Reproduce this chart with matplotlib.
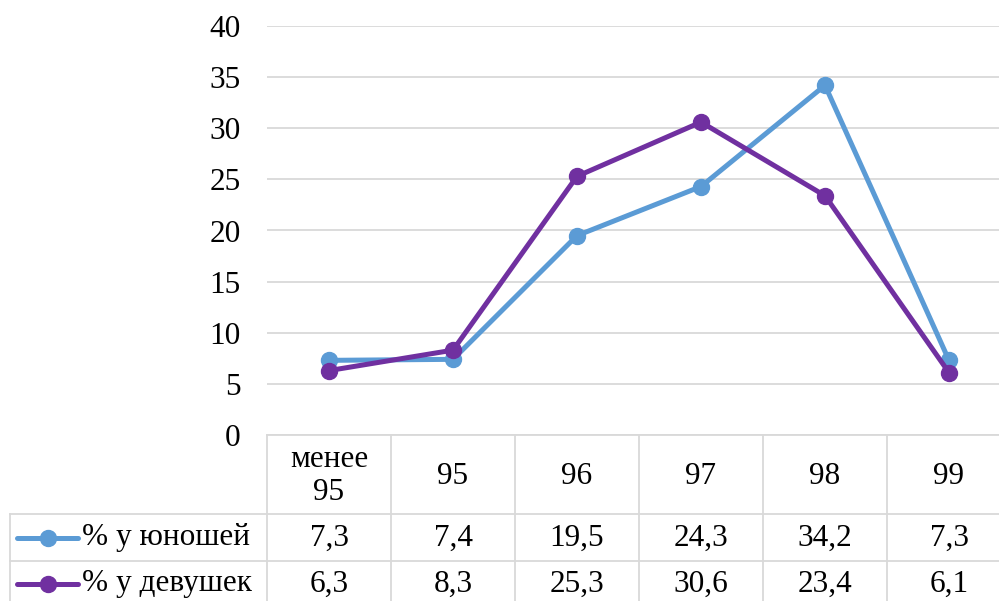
import matplotlib
matplotlib.use("Agg")
import matplotlib.pyplot as plt
from matplotlib.transforms import blended_transform_factory
from matplotlib.lines import Line2D

categories = ["менее\n95", "95", "96", "97", "98", "99"]
series_names = ["% у юношей", "% у девушек"]
boys = [7.3, 7.4, 19.5, 24.3, 34.2, 7.3]
girls = [6.3, 8.3, 25.3, 30.6, 23.4, 6.1]
colors = ["#5B9BD5", "#7030A0"]
yticks = [0, 5, 10, 15, 20, 25, 30, 35, 40]

plt.rcParams['font.family'] = ['Liberation Serif', 'DejaVu Serif']
FS = 22.5
LW = 3.6
MS = 11.5
W, H = 999, 601
fig = plt.figure(figsize=(W / 100, H / 100), dpi=100)

left_px, top_px, bottom_px = 267, 26, 435
ax = fig.add_axes([left_px / W, (H - bottom_px) / H, (W - left_px) / W, (bottom_px - top_px) / H])
cat_w = 124.0
x = list(range(len(categories)))
ax.set_xlim(-0.5, -0.5 + (W - left_px) / cat_w)
ax.set_ylim(0, 40)
ax.set_yticks(yticks)
ax.set_yticklabels([str(t) for t in yticks], fontsize=FS)
ax.tick_params(axis='y', length=0, pad=19)
ax.set_xticks([])
for s in ax.spines.values():
    s.set_visible(False)
ax.grid(axis='y', color='#D9D9D9', linewidth=1.3)
ax.set_axisbelow(True)

for vals, c in zip([boys, girls], colors):
    ax.plot(x, vals, color=c, linewidth=LW, marker='o', markersize=MS, solid_capstyle='round', zorder=3)

# Data table
tr = blended_transform_factory(ax.transData, fig.transFigure)
gc = '#D9D9D9'
lw = 1.3
def fy(py):
    return (H - py) / H

xmax = -0.5 + (W - left_px) / cat_w + 1
ax.add_line(Line2D([-0.5, xmax], [fy(435)] * 2, transform=tr, color=gc, lw=lw, clip_on=False))
for py in [514, 561]:
    fig.add_artist(Line2D([10 / W, 1.0], [fy(py)] * 2, transform=fig.transFigure, color=gc, lw=lw))
for i in range(len(categories) + 1):
    ax.add_line(Line2D([i - 0.5, i - 0.5], [fy(435), fy(610)], transform=tr, color=gc, lw=lw, clip_on=False))
fig.add_artist(Line2D([10 / W, 10 / W], [fy(514), 0], transform=fig.transFigure, color=gc, lw=lw))

for i, cat in enumerate(categories):
    ax.text(i, fy(476), cat, transform=tr, ha='center', va='center', fontsize=FS, linespacing=1.15, clip_on=False)

row_centers = [538, 584]
for vals, name, c, yc in zip([boys, girls], series_names, colors, row_centers):
    for i, v in enumerate(vals):
        ax.text(i, fy(yc), f"{v:.1f}".replace('.', ','), transform=tr, ha='center', va='center', fontsize=FS, clip_on=False)
    fig.add_artist(Line2D([17 / W, 78 / W], [fy(yc)] * 2, transform=fig.transFigure, color=c, lw=LW,
                          solid_capstyle='round'))
    fig.add_artist(Line2D([47.5 / W], [fy(yc)], transform=fig.transFigure, color=c, marker='o', markersize=MS, lw=0))
    fig.text(82 / W, fy(yc), name, ha='left', va='center', fontsize=FS)

fig.savefig("out.png", dpi=100)
